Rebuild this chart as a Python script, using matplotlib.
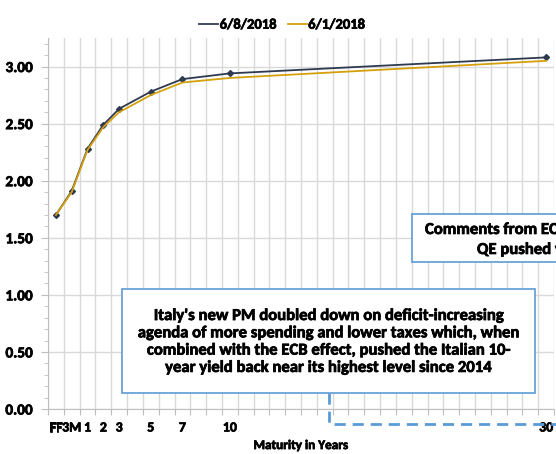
import matplotlib
matplotlib.use("Agg")
import matplotlib.pyplot as plt
import matplotlib.patheffects as pe
from matplotlib.patches import Rectangle
from matplotlib.lines import Line2D
from matplotlib.text import Text
import numpy as np

plt.rcParams['font.family'] = ['Carlito', 'DejaVu Sans']
plt.rcParams['font.weight'] = 'bold'

# maturities and their slot on the category axis
maturities = ["FF", "3M", "1", "2", "3", "5", "7", "10", "30"]
slots = [0, 1, 2, 3, 4, 6, 8, 11, 31]
yield_0608 = [1.70, 1.91, 2.28, 2.49, 2.63, 2.78, 2.89, 2.94, 3.08]
yield_0601 = [1.70, 1.90, 2.27, 2.47, 2.60, 2.75, 2.86, 2.90, 3.05]

navy = "#2e3a50"
gold = "#d4a00c"
boxblue = "#5b9bd5"

W, H = 556, 454
fig = plt.figure(figsize=(W / 100, H / 100), dpi=100)
ax = fig.add_axes([48 / W, 1 - 409 / H, (554 - 48) / W, (409 - 38) / H])

ax.plot(slots, yield_0608, color=navy, lw=1.3, marker="D", ms=3, label="6/8/2018", zorder=3)
ax.plot(slots, yield_0601, color=gold, lw=1.3, label="6/1/2018", zorder=4)

ax.set_xlim(-0.5, 31.5)
ax.set_ylim(0, 3.25)

ax.set_xticks(np.arange(-0.5, 32, 1))
ax.set_xticklabels([])
ax.set_xticks(slots, minor=True)
ax.set_xticklabels(maturities, minor=True)
ax.tick_params(axis="x", which="major", length=4, color="#bfbfbf", direction="out")
ax.tick_params(axis="x", which="minor", length=0, pad=9, labelsize=10)

ax.set_yticks(np.arange(0, 3.01, 0.5))
ax.set_yticklabels([f"{v:.2f}" for v in np.arange(0, 3.01, 0.5)])
ax.set_yticks(np.arange(0, 3.25, 0.1), minor=True)
ax.tick_params(axis="y", which="major", length=5, color="#bfbfbf", labelsize=11, pad=6)
ax.tick_params(axis="y", which="minor", length=3, color="#bfbfbf")

ax.grid(True, which="major", color="#d9d9d9", lw=1)
ax.set_axisbelow(True)
for s in ["top", "right"]:
    ax.spines[s].set_visible(False)
for s in ["left", "bottom"]:
    ax.spines[s].set_color("#bfbfbf")

ax.set_xlabel("Maturity in Years", fontsize=9.5, fontweight="bold", labelpad=4)

fig.legend(loc="upper center", bbox_to_anchor=(0.507, 0.99), ncol=2, frameon=False,
           fontsize=10.5, handlelength=1.3, handletextpad=0.1, columnspacing=0.8,
           markerscale=0)


def fx(px):
    return px / W


def fy(py):
    return 1 - py / H


# annotation boxes
fig.patches.append(Rectangle((fx(122), fy(393)), fx(535) - fx(122), fy(289) - fy(393),
                             transform=fig.transFigure, fill=True, facecolor="white",
                             edgecolor=boxblue, lw=1.2, zorder=5))
fig.text(fx(328.5), fy(341),
         "Italy's new PM doubled down on deficit-increasing\n"
         "agenda of more spending and lower taxes which, when\n"
         "combined with the ECB effect, pushed the Italian 10-\n"
         "year yield back near its highest level since 2014",
         ha="center", va="center", fontsize=12, fontweight="bold",
         linespacing=1.1, zorder=6)

fig.patches.append(Rectangle((fx(412), fy(262)), fx(620) - fx(412), fy(214) - fy(262),
                             transform=fig.transFigure, fill=True, facecolor="white",
                             edgecolor=boxblue, lw=1.2, zorder=5))
fig.text(fx(425), fy(229), "Comments from ECB on ending", ha="left", va="center",
         fontsize=12, fontweight="bold", zorder=6)
fig.text(fx(477), fy(249), "QE pushed yields higher", ha="left", va="center",
         fontsize=12, fontweight="bold", zorder=6)

# dashed connector
fig.lines.append(Line2D([fx(329), fx(329), fx(560)], [fy(393), fy(424), fy(424)],
                        transform=fig.transFigure, color=boxblue, lw=2,
                        dashes=(4, 2.5), zorder=6))

# heavier text, closer to the reference rendering
for t in fig.findobj(Text):
    t.set_path_effects([pe.withStroke(linewidth=0.5, foreground="black")])

fig.savefig("out.png", dpi=100)
